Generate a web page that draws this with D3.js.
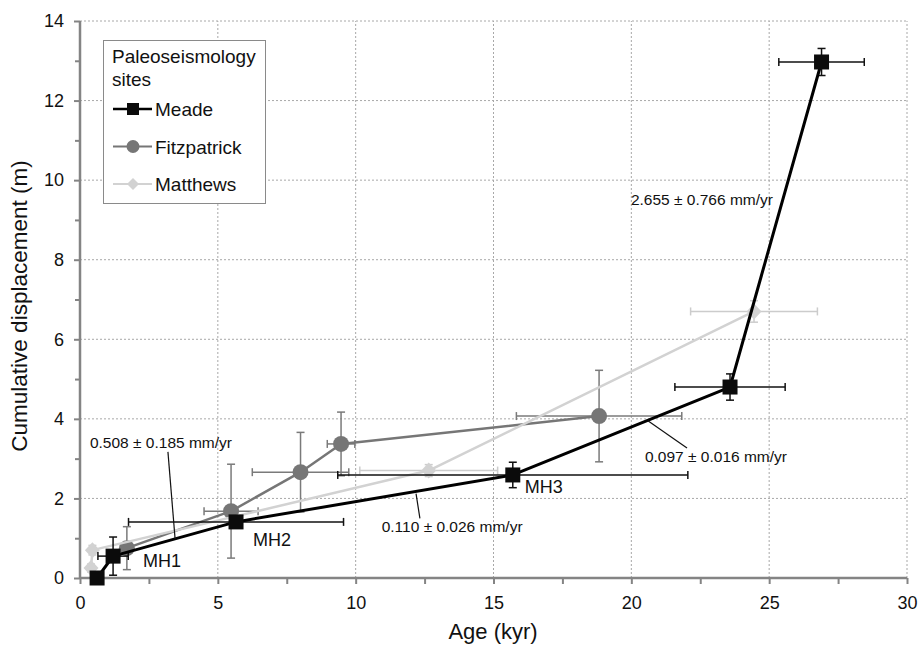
<!DOCTYPE html>
<html>
<head>
<meta charset="utf-8">
<script src="https://cdn.jsdelivr.net/npm/d3@7/dist/d3.min.js"></script>
<style>
  html, body { margin: 0; padding: 0; background: #fff; }
  svg { display: block; }
  text { font-family: Arial, "Liberation Sans", Helvetica, sans-serif; }
</style>
</head>
<body>
<svg id="chart" width="921" height="647"></svg>
<script>
// ---- Data ----
const meadeAge      = [0.62, 1.2, 5.66, 15.7, 23.58, 26.9];
const meadeDisp     = [0, 0.55, 1.41, 2.59, 4.8, 12.97];
const meadeAgeErr   = [0, 0.55, 3.9, 6.35, 2.0, 1.55];
const meadeDispErr  = [0, 0.48, 0, 0.32, 0.33, 0.34];
const meadeLabels   = ["", "MH1", "MH2", "MH3", "", ""];

const fitzAge       = [1.7, 5.48, 8.0, 9.47, 18.83];
const fitzDisp      = [0.75, 1.68, 2.66, 3.37, 4.07];
const fitzAgeErr    = [0, 0.98, 1.75, 0.5, 3.0];
const fitzDispErr   = [0.54, 1.18, 1.0, 0.8, 1.15];

const mattAge       = [0.4, 0.45, 12.65, 24.45];
const mattDisp      = [0.25, 0.7, 2.7, 6.7];
const mattAgeErr    = [0, 0, 2.5, 2.3];
const mattDispErr   = [0.1, 0.12, 0.15, 0.27];

const seriesNames   = ["Meade", "Fitzpatrick", "Matthews"];
const xTicks        = [0, 5, 10, 15, 20, 25, 30];
const yTicks        = [0, 2, 4, 6, 8, 10, 12, 14];

// rate annotations: text, text anchor point (age, disp), leader from/to (age, disp)
const rateText      = ["0.508 ± 0.185 mm/yr", "0.110 ± 0.026 mm/yr", "0.097 ± 0.016 mm/yr", "2.655 ± 0.766 mm/yr"];
const rateTextAge   = [0.36, 13.5, 23.07, 22.56];
const rateTextDisp  = [3.27, 1.15, 2.92, 9.37];
const rateLeader    = [[3.19, 3.17, 3.45, 0.98], [12.33, 1.5, 12.19, 2.12], [22.02, 3.27, 20.6, 3.95], null];

// ---- Layout ----
const svg = d3.select("#chart");
const x = d3.scaleLinear().domain([0, 30]).range([80, 907]);
const y = d3.scaleLinear().domain([0, 14]).range([578, 21]);

const axisColor = "#848484";
const gridColor = "#a8a8a8";

// grid
const grid = svg.append("g");
grid.selectAll("line.v").data(xTicks.filter(d => d > 0)).join("line")
  .attr("x1", d => x(d)).attr("x2", d => x(d))
  .attr("y1", y(0)).attr("y2", y(14))
  .attr("stroke", gridColor).attr("stroke-width", 1).attr("stroke-dasharray", "2,2");
grid.selectAll("line.h").data(yTicks.filter(d => d > 0)).join("line")
  .attr("x1", x(0)).attr("x2", x(30))
  .attr("y1", d => y(d)).attr("y2", d => y(d))
  .attr("stroke", gridColor).attr("stroke-width", 1).attr("stroke-dasharray", "2,2");

// axes
const xAxis = d3.axisBottom(x).tickValues(xTicks).tickSize(6).tickPadding(12).tickFormat(d3.format("d"));
const xMinor = d3.axisBottom(x).tickValues(d3.range(2.5, 30, 5)).tickSize(6).tickFormat("");
const yAxis = d3.axisLeft(y).tickValues(yTicks).tickSize(6).tickPadding(10).tickFormat(d3.format("d"));
const yMinor = d3.axisLeft(y).tickValues(d3.range(1, 14, 2)).tickSize(5).tickFormat("");

function styleAxis(g) {
  g.select(".domain").remove();
  g.selectAll(".tick line").attr("stroke", axisColor).attr("stroke-width", 2);
  g.selectAll(".tick text").attr("fill", "#111").style("font-size", "18px");
}
svg.append("g").attr("transform", `translate(0,${y(0)})`).call(xMinor).call(styleAxis);
svg.append("g").attr("transform", `translate(0,${y(0)})`).call(xAxis).call(styleAxis);
svg.append("g").attr("transform", `translate(${x(0)},0)`).call(yMinor).call(styleAxis);
svg.append("g").attr("transform", `translate(${x(0)},0)`).call(yAxis).call(styleAxis);

svg.append("line").attr("x1", x(0)).attr("x2", x(30)).attr("y1", y(0)).attr("y2", y(0))
  .attr("stroke", axisColor).attr("stroke-width", 2.5);
svg.append("line").attr("x1", x(0)).attr("x2", x(0)).attr("y1", y(0) + 1).attr("y2", y(14))
  .attr("stroke", axisColor).attr("stroke-width", 2.5);

// axis titles
svg.append("text").attr("x", 493).attr("y", 639).attr("text-anchor", "middle")
  .style("font-size", "22px").attr("fill", "#111").text("Age (kyr)");
svg.append("text").attr("transform", "translate(27,306) rotate(-90)").attr("text-anchor", "middle")
  .style("font-size", "22.5px").attr("fill", "#111").text("Cumulative displacement (m)");

// ---- Series ----
function mk(ages, disps, aErr, dErr) {
  return ages.map((a, i) => ({ a, d: disps[i], ea: aErr[i], ed: dErr[i], i }));
}
const series = [
  { name: "Fitzpatrick", data: mk(fitzAge, fitzDisp, fitzAgeErr, fitzDispErr), color: "#767676", err: "#7a7a7a", width: 2.5, marker: "circle" },
  { name: "Matthews", data: mk(mattAge, mattDisp, mattAgeErr, mattDispErr), color: "#d2d2d2", err: "#cccccc", width: 2.5, marker: "diamond" },
  { name: "Meade", data: mk(meadeAge, meadeDisp, meadeAgeErr, meadeDispErr), color: "#000000", err: "#111111", width: 3, marker: "square" }
];

const line = d3.line().x(d => x(d.a)).y(d => y(d.d));
const cap = 4;

function drawMarker(g, type, cx, cy, fill) {
  if (type === "square") {
    g.append("rect").attr("x", cx - 7.5).attr("y", cy - 7.5).attr("width", 15).attr("height", 15).attr("fill", "#0b0b0b");
  } else if (type === "circle") {
    g.append("circle").attr("cx", cx).attr("cy", cy).attr("r", 8).attr("fill", fill);
  } else {
    g.append("path").attr("d", `M${cx},${cy - 8}L${cx + 7.5},${cy}L${cx},${cy + 8}L${cx - 7.5},${cy}Z`).attr("fill", "#d2d2d2");
  }
}

series.forEach(s => {
  const g = svg.append("g");
  s.data.forEach(p => {
    const cx = x(p.a), cy = y(p.d);
    if (p.ea > 0) {
      const x1 = x(p.a - p.ea), x2 = x(p.a + p.ea);
      g.append("line").attr("x1", x1).attr("x2", x2).attr("y1", cy).attr("y2", cy).attr("stroke", s.err).attr("stroke-width", 1.5);
      [x1, x2].forEach(xx => g.append("line").attr("x1", xx).attr("x2", xx).attr("y1", cy - cap).attr("y2", cy + cap).attr("stroke", s.err).attr("stroke-width", 1.5));
    }
    if (p.ed > 0) {
      const y1 = y(p.d + p.ed), y2 = y(p.d - p.ed);
      g.append("line").attr("x1", cx).attr("x2", cx).attr("y1", y1).attr("y2", y2).attr("stroke", s.err).attr("stroke-width", 1.5);
      [y1, y2].forEach(yy => g.append("line").attr("x1", cx - cap).attr("x2", cx + cap).attr("y1", yy).attr("y2", yy).attr("stroke", s.err).attr("stroke-width", 1.5));
    }
  });
  g.append("path").datum(s.data).attr("d", line).attr("fill", "none")
    .attr("stroke", s.color).attr("stroke-width", s.width).attr("stroke-linejoin", "round");
  s.data.forEach(p => drawMarker(g, s.marker, x(p.a), y(p.d), s.color));
});

// point labels MH1..MH3 (pixel offsets from the point)
const labelDx = [0, 30, 17, 12, 0, 0];
const labelDy = [0, 11, 24, 18, 0, 0];
const labG = svg.append("g");
meadeLabels.forEach((t, i) => {
  if (!t) return;
  labG.append("text").attr("x", x(meadeAge[i]) + labelDx[i]).attr("y", y(meadeDisp[i]) + labelDy[i])
    .style("font-size", "18px").attr("fill", "#111").text(t);
});

// rate annotations
const annG = svg.append("g");
rateText.forEach((t, i) => {
  const L = rateLeader[i];
  if (L) {
    annG.append("line").attr("x1", x(L[0])).attr("y1", y(L[1])).attr("x2", x(L[2])).attr("y2", y(L[3]))
      .attr("stroke", "#111").attr("stroke-width", 1.2);
  }
  const anchor = i === 0 ? "start" : "middle";
  annG.append("text").attr("x", x(rateTextAge[i])).attr("y", y(rateTextDisp[i]))
    .attr("text-anchor", anchor).style("font-size", "15.5px").attr("fill", "#111").text(t);
});

// ---- Legend ----
const lg = svg.append("g");
lg.append("rect").attr("x", 103.5).attr("y", 40.5).attr("width", 162).attr("height", 163)
  .attr("fill", "#fff").attr("stroke", "#8a8a8a").attr("stroke-width", 1);
lg.append("text").attr("x", 112).attr("y", 63).style("font-size", "19px").attr("fill", "#111").text("Paleoseismology");
lg.append("text").attr("x", 112).attr("y", 86).style("font-size", "19px").attr("fill", "#111").text("sites");
const legendColors = { "Meade": ["#000", "square"], "Fitzpatrick": ["#767676", "circle"], "Matthews": ["#d2d2d2", "diamond"] };
seriesNames.forEach((n, i) => {
  const ly = 109 + i * 37.5;
  const [c, m] = legendColors[n];
  lg.append("line").attr("x1", 113).attr("x2", 152).attr("y1", ly).attr("y2", ly).attr("stroke", c).attr("stroke-width", n === "Meade" ? 2.5 : 2.2);
  const mg = lg.append("g");
  if (m === "square") mg.append("rect").attr("x", 127).attr("y", ly - 6).attr("width", 12).attr("height", 12).attr("fill", "#0b0b0b");
  else if (m === "circle") mg.append("circle").attr("cx", 133).attr("cy", ly).attr("r", 6.5).attr("fill", c);
  else mg.append("path").attr("d", `M133,${ly - 6}L139,${ly}L133,${ly + 6}L127,${ly}Z`).attr("fill", c);
  lg.append("text").attr("x", 155).attr("y", ly + 7).style("font-size", "19px").attr("fill", "#111").text(n);
});
</script>
</body>
</html>
